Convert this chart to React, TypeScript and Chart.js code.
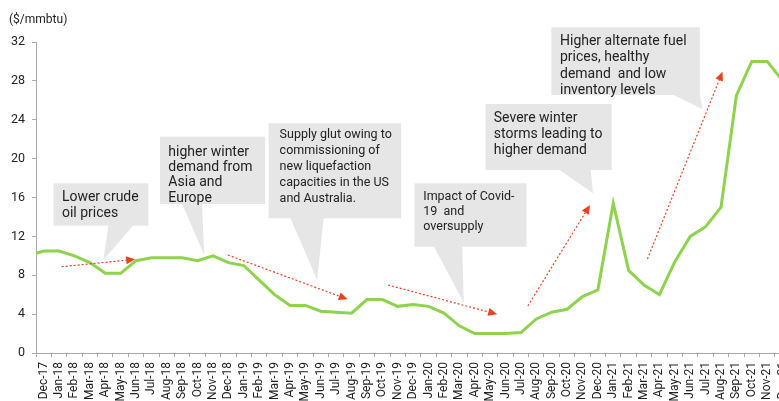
import React, { useEffect, useRef } from 'react';
import { Chart, registerables } from 'chart.js';

Chart.register(...registerables);

// Leading 'Nov-17' is only there so the line enters from the left edge (hidden by scale min)
const months = [
  'Nov-17', 'Dec-17',
  'Jan-18', 'Feb-18', 'Mar-18', 'Apr-18', 'May-18', 'Jun-18', 'Jul-18', 'Aug-18', 'Sep-18', 'Oct-18', 'Nov-18', 'Dec-18',
  'Jan-19', 'Feb-19', 'Mar-19', 'Apr-19', 'May-19', 'Jun-19', 'Jul-19', 'Aug-19', 'Sep-19', 'Oct-19', 'Nov-19', 'Dec-19',
  'Jan-20', 'Feb-20', 'Mar-20', 'Apr-20', 'May-20', 'Jun-20', 'Jul-20', 'Aug-20', 'Sep-20', 'Oct-20', 'Nov-20', 'Dec-20',
  'Jan-21', 'Feb-21', 'Mar-21', 'Apr-21', 'May-21', 'Jun-21', 'Jul-21', 'Aug-21', 'Sep-21', 'Oct-21', 'Nov-21', 'Dec-21',
];

const prices = [
  10.0, 10.5,
  10.5, 10.0, 9.3, 8.2, 8.2, 9.5, 9.8, 9.8, 9.8, 9.5, 10.0, 9.3,
  9.0, 7.5, 6.0, 4.9, 4.9, 4.3, 4.2, 4.1, 5.5, 5.5, 4.8, 5.0,
  4.8, 4.1, 2.8, 2.0, 2.0, 2.0, 2.1, 3.5, 4.2, 4.5, 5.8, 6.5,
  15.4, 8.5, 7.0, 6.0, 9.4, 12.0, 13.0, 15.0, 26.5, 30.0, 30.0, 28.0,
];

const firstMonth = 'Dec-17';
const yMin = 0;
const yMax = 32;
const yStep = 4;
const unitLabel = '($/mmbtu)';

const calloutTexts = [
  ['Lower crude', 'oil prices'],
  ['higher winter', 'demand from', 'Asia and', 'Europe'],
  ['Supply glut owing to', 'commissioning of', 'new liquefaction', 'capacities in the US', 'and Australia.'],
  ['Impact of Covid-', '19  and', 'oversupply'],
  ['Severe winter', 'storms leading to', 'higher demand'],
  ['Higher alternate fuel', 'prices, healthy', 'demand  and low', 'inventory levels'],
];

// Geometry in data space: x = month index from Dec-17, y = $/mmbtu
const calloutGeom = [
  { box: [0.63, 17.46, 6.80, 13.10], ptr: [4.20, 5.83, 3.88, 9.57], size: 14, lh: 16, pad: 8.5, base: 17.4 },
  { box: [7.56, 22.26, 14.39, 15.33], ptr: [8.98, 10.28, 10.43, 10.08], size: 14, lh: 15.2, pad: 8.3, base: 19.3 },
  { box: [14.61, 23.63, 23.22, 13.86], ptr: [16.02, 18.19, 17.76, 7.51], size: 12.5, lh: 15.8, pad: 11, base: 15 },
  { box: [24.09, 17.46, 31.37, 10.94], ptr: [25.34, 27.19, 27.29, 5.18], size: 12.5, lh: 15, pad: 8.7, base: 16.7 },
  { box: [28.70, 25.62, 36.90, 18.83], ptr: [33.47, 35.53, 35.68, 16.43], size: 14, lh: 16.3, pad: 8.3, base: 17.7 },
  { box: [32.98, 33.51, 42.62, 26.55], ptr: [40.85, 42.62, 42.80, 25.07], size: 14, lh: 16.3, pad: 8.6, base: 17.7 },
];

const arrows = [
  [1.17, 8.88, 5.94, 9.64],
  [11.97, 10.08, 19.75, 5.53],
  [22.37, 7.00, 29.46, 3.98],
  [31.45, 4.84, 35.49, 15.23],
  [39.22, 9.67, 44.10, 28.94],
];

const FONT = 'Roboto, "Noto Sans", Arial, sans-serif';
const GREEN = '#8ed24e';
const RED = '#e5441f';
const BOXGREY = '#e6e6e6';
const AXIS = '#a9a9a9';
const TEXT = '#222222';

const annotations = {
  id: 'annotations',
  beforeDatasetsDraw(chart: any) {
    const { ctx, scales } = chart;
    const X = (i: number) => scales.x.getPixelForValue(i + 1);
    const Y = (v: number) => scales.y.getPixelForValue(v);
    ctx.save();
    calloutGeom.forEach((g, k) => {
      const [bx0, by0, bx1, by1] = g.box;
      const [pa, pb, tx, ty] = g.ptr;
      const left = X(bx0), top = Y(by0), right = X(bx1), bottom = Y(by1);
      ctx.fillStyle = BOXGREY;
      ctx.fillRect(left, top, right - left, bottom - top);
      ctx.beginPath();
      ctx.moveTo(X(pa), bottom - 0.5);
      ctx.lineTo(X(pb), bottom - 0.5);
      ctx.lineTo(X(tx), Y(ty));
      ctx.closePath();
      ctx.fill();
      ctx.fillStyle = TEXT;
      ctx.font = `${g.size}px ${FONT}`;
      ctx.textBaseline = 'alphabetic';
      ctx.textAlign = 'left';
      calloutTexts[k].forEach((line, j) => {
        ctx.fillText(line, left + g.pad, top + g.base + j * g.lh);
      });
    });
    ctx.restore();
  },
  afterDatasetsDraw(chart: any) {
    const { ctx, scales } = chart;
    const X = (i: number) => scales.x.getPixelForValue(i + 1);
    const Y = (v: number) => scales.y.getPixelForValue(v);
    ctx.save();
    arrows.forEach(([x0, y0, x1, y1]) => {
      const sx = X(x0), sy = Y(y0), ex = X(x1), ey = Y(y1);
      const ang = Math.atan2(ey - sy, ex - sx);
      const head = 9, half = 4;
      const bx = ex - head * Math.cos(ang), by = ey - head * Math.sin(ang);
      ctx.strokeStyle = RED;
      ctx.lineWidth = 1.2;
      ctx.setLineDash([2, 2]);
      ctx.beginPath();
      ctx.moveTo(sx, sy);
      ctx.lineTo(bx, by);
      ctx.stroke();
      ctx.setLineDash([]);
      ctx.fillStyle = RED;
      ctx.beginPath();
      ctx.moveTo(ex, ey);
      ctx.lineTo(bx + half * Math.sin(ang), by - half * Math.cos(ang));
      ctx.lineTo(bx - half * Math.sin(ang), by + half * Math.cos(ang));
      ctx.closePath();
      ctx.fill();
    });
    ctx.restore();
  },
  afterDraw(chart: any) {
    const { ctx } = chart;
    ctx.save();
    ctx.fillStyle = TEXT;
    ctx.font = `12px ${FONT}`;
    ctx.textBaseline = 'middle';
    ctx.textAlign = 'left';
    ctx.fillText(unitLabel, 9, 20);
    ctx.restore();
  },
};

export default function App() {
  const ref = useRef<HTMLCanvasElement>(null);
  useEffect(() => {
    const chart = new Chart(ref.current as HTMLCanvasElement, {
      type: 'line',
      data: {
        labels: months,
        datasets: [
          {
            data: prices,
            borderColor: GREEN,
            borderWidth: 3,
            pointRadius: 0,
            tension: 0,
            fill: false,
            clip: 0,
          } as any,
        ],
      },
      options: {
        responsive: false,
        animation: false,
        devicePixelRatio: 1,
        layout: { padding: { top: 42, left: 0, right: 0, bottom: 0 } },
        plugins: { legend: { display: false }, tooltip: { enabled: false }, title: { display: false } },
        scales: {
          x: {
            type: 'category',
            min: firstMonth,
            offset: true,
            grid: { display: true, offset: true, drawOnChartArea: false, drawTicks: true, tickLength: 4, color: AXIS },
            border: { display: true, color: AXIS, width: 1 },
            ticks: {
              autoSkip: false,
              maxRotation: 90,
              minRotation: 90,
              padding: 5,
              color: TEXT,
              font: { family: FONT, size: 12 },
            },
            afterFit: (s: any) => { s.height = 77; },
          },
          y: {
            min: yMin,
            max: yMax,
            ticks: { stepSize: yStep, padding: 7, color: TEXT, font: { family: FONT, size: 12.5 } },
            grid: { display: true, drawOnChartArea: false, drawTicks: true, tickLength: 4, color: AXIS },
            border: { display: true, color: AXIS, width: 1 },
            afterFit: (s: any) => { s.width = 36; },
          },
        },
      },
      plugins: [annotations],
    });
    return () => chart.destroy();
  }, []);
  return (
    <div style={{ position: 'fixed', left: 0, top: 0, width: 779, height: 401, overflow: 'hidden', background: '#fff' }}>
      <canvas ref={ref} width={802} height={430} style={{ display: 'block', width: 802, height: 430 }} />
    </div>
  );
}
